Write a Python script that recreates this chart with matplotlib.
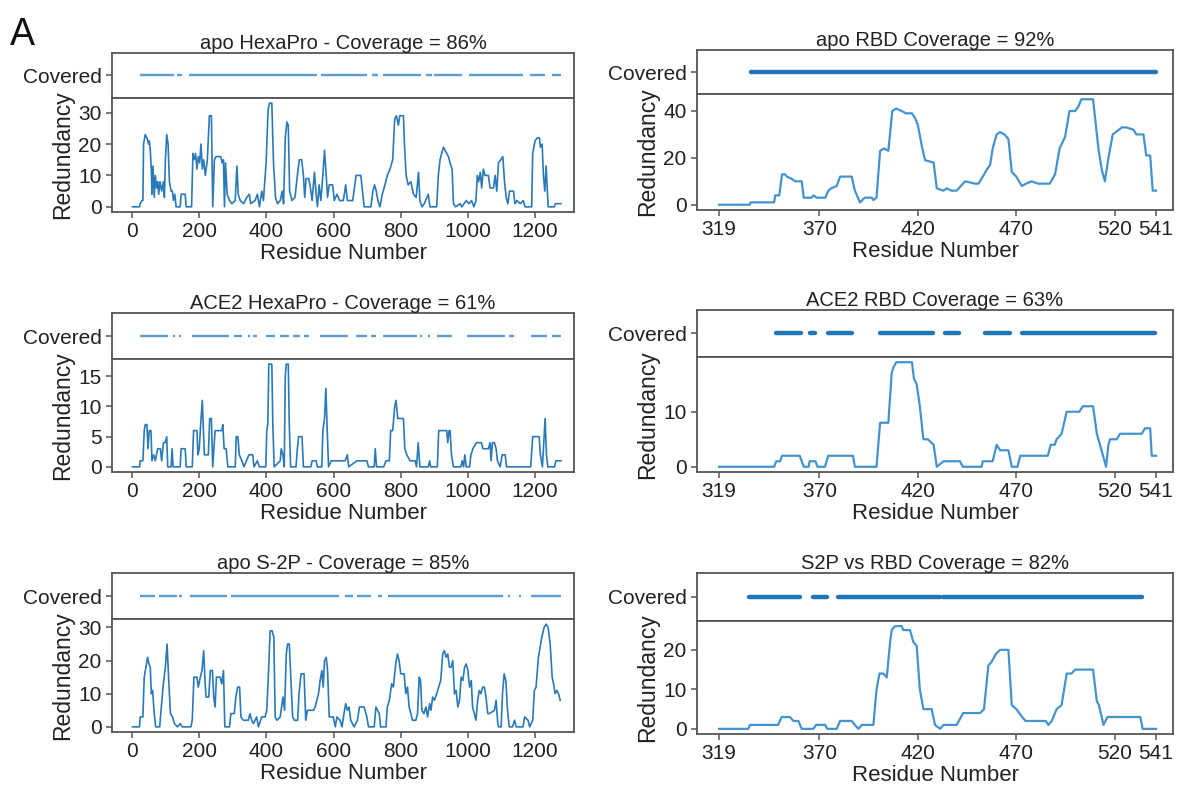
import matplotlib
matplotlib.use('Agg')
import matplotlib.pyplot as plt

plt.rcParams['font.family'] = ['Liberation Sans', 'DejaVu Sans']

figW, figH = 1177, 786

# redundancy profiles, (residue, redundancy)
hexaApo = [(1,0),(22,0),(24,1),(29,2),(32,2),(34,20),(39,23),(44,22),(49,20),(51,21),(54,18),(57,12),
  (59,4),(62,13),(64,8),(66,3),(69,10),(73,6),(76,8),(79,4),(83,8),(88,5),(93,8),(96,3),(99,15),(103,23),
  (107,20),(111,8),(116,5),(120,5),(123,2),(127,4),(131,0),(143,0),(146,4),(158,4),(161,0),(177,0),
  (181,17),(185,15),(189,17),(193,12),(197,16),(201,14),(205,20),(209,12),(213,15),(218,10),(224,15),
  (230,29),(236,29),(240,0),(245,15),(250,16),(264,16),(268,14),(272,15),(275,0),(278,14),(283,4),
  (290,2),(297,1),(307,2),(312,13),(316,4),(322,2),(332,1),(341,3),(349,4),(353,1),(366,2),(373,4),
  (379,0),(386,5),(391,2),(399,14),(405,31),(409,33),(416,33),(421,14),(427,3),(433,1),(441,2),(447,5),
  (451,1),(456,22),(461,27),(465,26),(469,5),(476,2),(485,3),(492,10),(498,15),(505,15),(510,10),
  (514,3),(518,9),(526,9),(531,6),(536,2),(543,11),(548,4),(552,0),(557,7),(562,2),(568,10),(573,18),
  (578,10),(582,3),(587,7),(597,7),(602,2),(610,4),(618,2),(629,2),(636,7),(641,2),(657,2),(667,10),
  (681,10),(686,5),(691,0),(711,0),(717,5),(722,7),(727,5),(732,2),(738,0),(745,4),(753,7),(760,10),
  (768,12),(776,15),(782,28),(787,29),(793,26),(797,29),(808,29),(811,20),(816,10),(822,7),(830,8),
  (838,4),(846,3),(853,11),(857,2),(863,0),(870,1),(882,4),(887,0),(907,0),(912,10),(917,15),(922,17),
  (927,19),(932,18),(937,17),(942,16),(947,14),(953,12),(957,1),(963,0),(977,1),(982,0),(995,2),
  (1003,1),(1011,2),(1018,0),(1024,2),(1028,10),(1032,8),(1037,11),(1041,6),(1046,12),(1051,10),
  (1061,10),(1066,6),(1076,6),(1081,10),(1086,5),(1091,14),(1098,15),(1104,16),(1109,8),(1114,3),
  (1119,1),(1124,5),(1136,5),(1140,1),(1146,2),(1156,1),(1165,2),(1170,0),(1190,0),(1193,17),(1200,21),
  (1207,22),(1213,22),(1216,19),(1221,20),(1225,10),(1229,5),(1233,13),(1239,0),(1257,0),(1261,1),
  (1277,1)]

hexaAce2 = [(1,0),(22,0),(24,1),(32,1),(36,6),(39,7),(44,7),(47,3),(51,6),(56,6),(59,1),(64,2),(69,1),
  (76,3),(84,3),(88,1),(93,4),(98,4),(103,5),(106,0),(116,0),(119,3),(122,0),(143,0),(146,3),(158,3),
  (161,0),(179,0),(183,6),(193,6),(196,2),(200,3),(204,7),(209,11),(213,5),(215,2),(227,2),(231,8),
  (236,8),(240,0),(247,6),(262,6),(267,6),(270,7),(274,3),(280,3),(285,0),(307,0),(310,5),(315,5),
  (319,2),(327,1),(333,0),(348,2),(359,2),(363,0),(373,1),(379,0),(398,0),(401,6),(404,7),(407,17),
  (416,17),(419,7),(423,0),(441,1),(444,3),(449,2),(453,0),(456,15),(459,17),(465,17),(468,7),(472,0),
  (488,0),(492,3),(496,5),(506,5),(510,0),(532,0),(536,1),(548,1),(552,0),(565,0),(568,6),(573,8),
  (577,13),(581,6),(585,0),(593,1),(634,1),(641,2),(645,0),(669,1),(699,1),(704,0),(721,0),(724,3),
  (728,0),(749,0),(756,1),(766,1),(770,6),(776,6),(782,10),(786,11),(791,8),(808,8),(812,3),(818,2),
  (828,1),(843,1),(847,0),(852,4),(857,0),(882,0),(886,1),(889,0),(909,0),(913,6),(937,6),(940,4),
  (944,6),(947,6),(951,2),(957,0),(979,0),(983,1),(987,0),(991,2),(995,0),(1005,0),(1009,2),(1015,3),
  (1025,4),(1040,4),(1045,3),(1061,3),(1066,4),(1069,1),(1073,4),(1079,4),(1084,3),(1088,1),(1096,0),
  (1102,2),(1111,2),(1115,0),(1187,0),(1193,5),(1212,5),(1216,2),(1222,0),(1230,8),(1234,2),(1238,0),
  (1258,0),(1262,1),(1277,1)]

s2pApo = [(1,0),(22,0),(24,3),(32,3),(36,15),(41,18),(46,21),(50,19),(54,18),(57,10),(61,11),(65,5),
  (70,0),(82,0),(86,5),(93,13),(99,18),(104,25),(109,14),(114,4),(120,3),(126,1),(135,0),(143,1),
  (149,0),(175,0),(179,2),(184,15),(193,15),(197,12),(203,15),(208,17),(213,23),(217,14),(220,9),
  (228,9),(233,17),(239,17),(243,9),(247,6),(251,15),(262,15),(267,13),(272,17),(276,0),(290,0),
  (294,4),(304,4),(309,9),(314,12),(320,12),(324,3),(331,2),(346,2),(351,4),(356,2),(361,1),(371,3),
  (376,0),(386,3),(396,3),(401,5),(406,16),(411,29),(417,29),(422,27),(426,3),(431,2),(441,3),(449,9),
  (454,5),(459,22),(463,25),(468,25),(473,14),(478,3),(483,2),(493,2),(497,10),(503,16),(512,16),
  (517,2),(522,5),(540,5),(545,6),(555,10),(560,14),(565,17),(569,12),(573,20),(578,21),(582,17),
  (587,3),(599,3),(605,0),(610,3),(619,2),(625,0),(631,4),(636,7),(641,5),(646,6),(651,2),(661,0),
  (671,2),(677,6),(691,6),(699,3),(704,0),(721,0),(726,6),(736,4),(740,0),(756,0),(760,6),(766,8),
  (773,13),(778,12),(785,19),(790,22),(795,20),(800,16),(810,16),(815,10),(820,12),(825,6),(830,4),
  (835,2),(845,2),(850,4),(855,15),(859,14),(863,5),(869,4),(875,6),(880,3),(886,7),(890,5),(895,9),
  (900,8),(907,10),(913,12),(919,14),(925,22),(930,23),(935,21),(940,22),(945,18),(950,18),(955,20),
  (960,10),(965,11),(970,6),(975,8),(980,15),(985,14),(990,18),(995,19),(1000,17),(1005,12),(1010,14),
  (1014,6),(1019,4),(1024,2),(1029,8),(1034,11),(1039,10),(1044,12),(1049,12),(1054,9),(1059,4),
  (1064,4),(1079,5),(1084,8),(1089,1),(1092,0),(1099,0),(1103,10),(1108,16),(1113,14),(1118,5),
  (1123,0),(1133,0),(1139,2),(1144,0),(1164,0),(1169,3),(1179,2),(1184,0),(1193,2),(1198,11),
  (1203,12),(1210,21),(1220,27),(1227,30),(1233,31),(1239,30),(1245,25),(1251,15),(1255,13),
  (1260,10),(1265,11),(1270,10),(1275,8)]

rbdApo = [(319,0),(334.7,0),(335,1),(347,1),(347.5,4),(349.6,4),(351,13),(352.5,13),(353.4,12),
  (356,11),(357.6,10),(361,10),(362,3),(366,3),(367,4),(368.6,3),(373,3),(374.5,6),(376,7),(378.8,8),
  (380.5,12),(386.4,12),(388,6),(390.6,1),(393,3),(396.6,3),(397.4,2),(399,3),(400.8,23),(402.8,24),
  (405,23),(407,40),(409,41),(411.8,40),(414,39),(417,39),(418.6,37),(420,34),(422,25),(423.7,19),
  (428,18),(429.6,7),(433,6),(434.7,7),(437,6),(439.7,6),(444,10),(449,9),(450.8,9),(453,12),(455,15),
  (456.7,17),(458,24),(460,30),(461.8,31),(464,30),(466,28),(467.7,14),(470,12),(472.8,8),(475,9),
  (477.8,10),(481,9),(487,9),(489.7,13),(492,24),(494.8,29),(497,40),(499.9,40),(501.6,42),(503,45),
  (509,45),(511.7,24),(513.4,15),(515,10),(516.8,20),(519,30),(523.6,33),(526,33),(529.5,32),(531,30),
  (534.6,30),(536,21),(538,21),(539.3,6),(541,6)]

rbdAce2 = [(319,0),(347,0),(348,1),(350,1),(351,2),(360,2),(362,0),(364.5,0),(365,1),(368,1),(369,0),
  (372.8,0),(374.5,2),(387,2),(388,0),(399,0),(400.8,8),(405,8),(406.7,17),(407.5,18),(409,19),
  (417,19),(418,16),(419.4,15),(421,11),(422.8,5),(425,5),(428,4),(429.6,0),(433,1),(441.4,1),
  (442.8,0),(452.4,0),(453,1),(458,1),(460,4),(461.8,3),(466,3),(467.7,0),(470.6,0),(472,2),(486,2),
  (487.5,4),(489.5,4),(490.5,5),(493,6),(495.6,10),(502,10),(503.8,11),(509,11),(510.9,6),(512.5,4),
  (515.6,0),(516.8,4),(517.6,5),(521,5),(522.7,6),(533.7,6),(535.4,7),(538,7),(538.8,2),(541,2)]

rbdS2p = [(319,0),(333.9,0),(334.7,1),(349,1),(350.8,3),(355,3),(356.8,2),(359.3,2),(361,0),(366.9,0),
  (368.3,1),(372.9,1),(374,0),(378.8,0),(380.5,2),(386.4,2),(388,1),(389.8,0),(391.5,1),(397.4,1),
  (399,10),(400.5,14),(402.5,14),(404.2,13),(405.9,22),(406.7,25),(408.4,26),(411.8,26),(412.6,25),
  (416,25),(417.7,22),(419.4,21),(421,10),(422.8,5),(427,5),(428.7,1),(431.3,0),(433,1),(439.7,1),
  (443,4),(451.6,4),(453.6,5),(455.8,16),(457.5,17),(459.7,19),(461.8,20),(466,20),(467.7,6),(470,5),
  (473,3),(474.7,2),(484.9,2),(486.3,1),(488,2),(490.5,5),(493,6),(495.6,14),(498,14),(499.9,15),
  (509,15),(510.9,7),(512,6),(514.3,1),(516.3,3),(533,3),(534.2,0),(541,0)]

# covered stretches (first residue, last residue)
hexaApoCov = [(22,125),(135,148),(168,550),(562,699),(714,731),(746,860),(876,892),(900,982),
  (1002,1165),(1185,1230),(1250,1277)]
hexaAce2Cov = [(22,108),(121,128),(141,146),(178,287),(302,326),(346,351),(361,371),(399,426),
  (439,466),(478,500),(512,528),(560,644),(667,699),(711,726),(746,848),(858,863),(882,887),
  (909,952),(997,1111),(1121,1136),(1187,1235),(1250,1277)]
s2pApoCov = [(22,69),(81,133),(141,147),(171,282),(295,615),(634,659),(671,711),(731,744),
  (761,1106),(1118,1126),(1153,1159),(1187,1277)]
rbdApoCov = [(335,541)]
rbdAce2Cov = [(348,360.5),(365.4,367.6),(374.2,386.6),(401,427.7),(433.6,440.8),(453.9,466.7),
  (472.9,540.7)]
rbdS2pCov = [(334.2,360.2),(366.9,373.7),(379.6,431.3),(433,533.7)]

spikeTicks = [0, 200, 400, 600, 800, 1000, 1200]
rbdTicks = [319, 370, 420, 470, 520, 541]

spineCol = '#555555'

def styleAxis(ax):
  for s in ax.spines.values():
    s.set_color(spineCol)
    s.set_linewidth(1.3)
  ax.tick_params(color=spineCol, length=4, width=1.1, labelsize=15, labelcolor='#222222')

def addPanel(fig, box, title, cover, profile, xlim, xticks, yticks, rbd=False):
  x0, x1, yTop, yDiv, yBot = box
  w = (x1 - x0)/figW
  axC = fig.add_axes([x0/figW, 1 - yDiv/figH, w, (yDiv - yTop)/figH])
  axR = fig.add_axes([x0/figW, 1 - yBot/figH, w, (yBot - yDiv)/figH])

  starts = [c[0] for c in cover]
  ends = [c[1] for c in cover]
  ones = [1]*len(cover)
  if rbd:
    lc = axC.hlines(ones, starts, ends, colors='#2176b8', lw=3.2)
    lc.set_capstyle('round')
  else:
    axC.hlines(ones, starts, ends, colors='#5b9ed5', lw=1.7)
  axC.set_xlim(*xlim)
  axC.set_ylim(0, 2)
  axC.set_yticks([1])
  axC.set_yticklabels(['Covered'])
  axC.tick_params(bottom=False, labelbottom=False)
  styleAxis(axC)
  axC.set_title(title, fontsize=14.5, pad=3, color='#222222')

  xs = [p[0] for p in profile]
  ys = [p[1] for p in profile]
  if rbd:
    axR.plot(xs, ys, color='#4493cf', lw=1.6)
  else:
    axR.plot(xs, ys, color='#2a79b9', lw=1.2)
  top = max(ys)
  axR.set_ylim(-0.05*top, 1.05*top)
  axR.set_xlim(*xlim)
  axR.set_xticks(xticks)
  axR.set_yticks(yticks)
  styleAxis(axR)
  axR.set_ylabel('Redundancy', fontsize=16.5, color='#222222', labelpad=3)
  axR.set_xlabel('Residue Number', fontsize=16, color='#222222', labelpad=1)
  return axC, axR

fig = plt.figure(figsize=(figW/100, figH/100), dpi=100)

leftLim = (-60, 1316)
rightLim = (307.8, 549.6)

addPanel(fig, (112, 574, 53, 98, 212), 'apo HexaPro - Coverage = 86%', hexaApoCov, hexaApo,
  leftLim, spikeTicks, [0, 10, 20, 30])
addPanel(fig, (112, 574, 313, 359, 472), 'ACE2 HexaPro - Coverage = 61%', hexaAce2Cov, hexaAce2,
  leftLim, spikeTicks, [0, 5, 10, 15])
addPanel(fig, (112, 574, 573, 619, 732), 'apo S-2P - Coverage = 85%', s2pApoCov, s2pApo,
  leftLim, spikeTicks, [0, 10, 20, 30])

addPanel(fig, (697, 1173, 50, 94, 210), 'apo RBD Coverage = 92%', rbdApoCov, rbdApo,
  rightLim, rbdTicks, [0, 20, 40], rbd=True)
addPanel(fig, (697, 1173, 310, 357, 472), 'ACE2 RBD Coverage = 63%', rbdAce2Cov, rbdAce2,
  rightLim, rbdTicks, [0, 10], rbd=True)
addPanel(fig, (697, 1173, 573, 621, 734), 'S2P vs RBD Coverage = 82%', rbdS2pCov, rbdS2p,
  rightLim, rbdTicks, [0, 10, 20], rbd=True)

fig.text(10/figW, 1 - 45/figH, 'A', fontsize=27, ha='left', va='baseline', color='#111111')

fig.savefig('out.png', dpi=100)
